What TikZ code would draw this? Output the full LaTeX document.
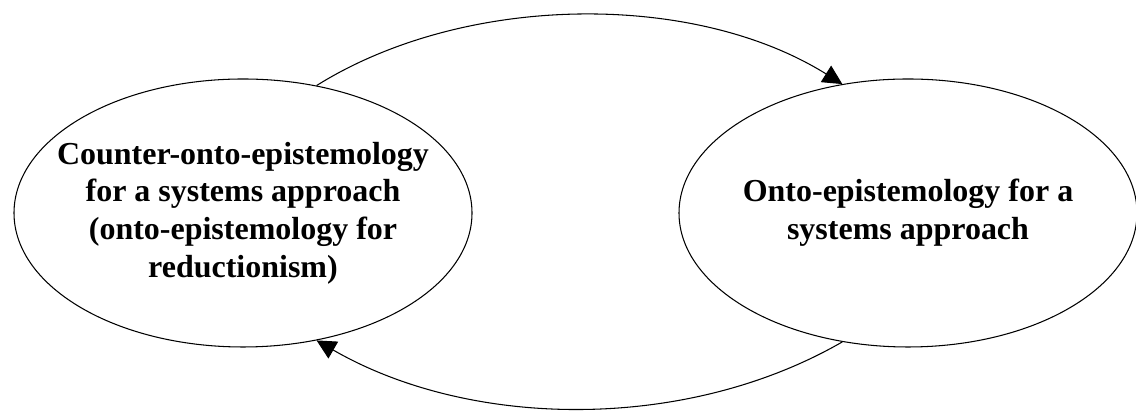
\documentclass[tikz,border=0pt]{standalone}
\usepackage{fontspec}
\setmainfont{Liberation Serif}
\usetikzlibrary{shapes.geometric,arrows.meta}

\tikzset{
    stance/.style={draw, ellipse, line width=0.6pt, inner xsep=-1cm, inner ysep=0pt,
        minimum width=9.16cm, minimum height=5.36cm, align=center,
        font=\fontsize{18.2}{21.5}\selectfont\bfseries},
    loop arrow/.style={line width=0.6pt, -{Triangle[length=11pt,width=11pt]}}
}

\begin{document}
\begin{tikzpicture}
        \useasboundingbox (0,0) rectangle (22.72,8.24);

        % the two stances
        \node[stance] (counter) at (4.86, 3.98) {Counter-onto-epistemology\\for a systems approach\\(onto-epistemology for\\reductionism)};
        \node[stance] (systems) at (18.16, 3.98) {Onto-epistemology for a\\systems approach};

        % Feedback loop
        \draw[loop arrow] (counter.60) to[out=32, in=148, looseness=0.85] (systems.117);
        \draw[loop arrow] (systems.243) to[out=210, in=330, looseness=0.87] (counter.300);
    \end{tikzpicture}
\end{document}
